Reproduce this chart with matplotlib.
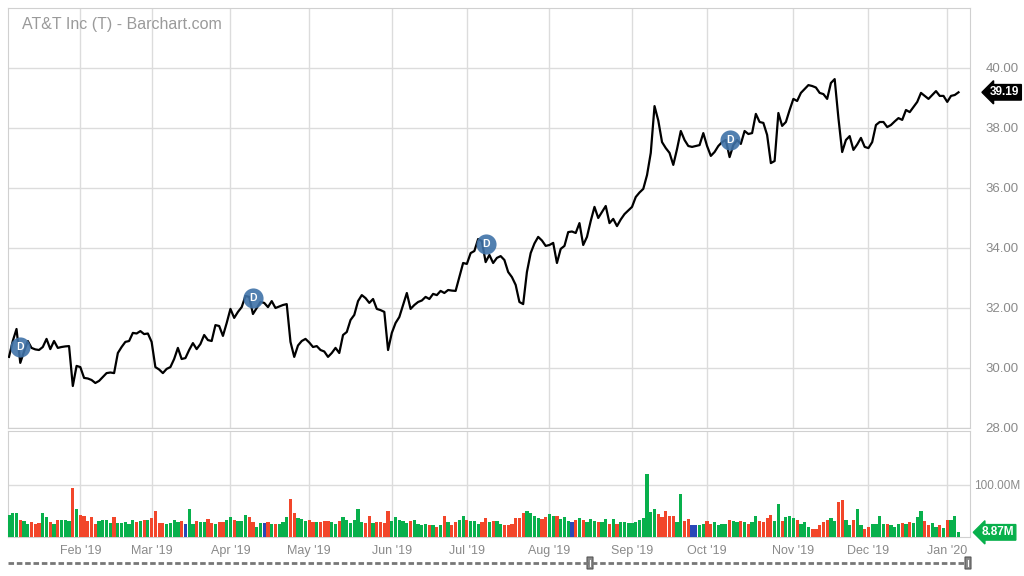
import numpy as np
import pandas as pd
import matplotlib
matplotlib.use("Agg")
import matplotlib.pyplot as plt
from matplotlib.lines import Line2D
from matplotlib.patches import FancyBboxPatch

plt.rcParams['font.family'] = ['Liberation Sans', 'DejaVu Sans']

# trading days, Jan 4 2019 .. Jan 7 2020
holidays = ["2019-01-21", "2019-02-18", "2019-04-19", "2019-05-27", "2019-07-04",
            "2019-09-02", "2019-11-28", "2019-12-25", "2020-01-01"]
dates = pd.bdate_range("2019-01-04", "2020-01-07")
dates = dates[~dates.isin(pd.to_datetime(holidays))]

close = [
    # Jan
    30.37, 30.90, 31.30, 30.17, 30.55, 30.90, 30.67, 30.62, 30.60, 30.70,
    30.97, 30.63, 30.90, 30.67, 30.70, 30.72, 30.73, 29.40, 30.07,
    # Feb
    30.03, 29.67, 29.65, 29.60, 29.50, 29.57, 29.70, 29.83, 29.85, 29.83,
    30.50, 30.70, 30.87, 30.90, 31.17, 31.15, 31.23, 31.13, 31.15,
    # Mar
    30.87, 30.03, 29.95, 29.83, 29.97, 30.03, 30.30, 30.67, 30.30, 30.33,
    30.60, 30.83, 30.63, 30.80, 31.10, 30.93, 30.90, 31.43, 31.40, 31.07, 31.50,
    # Apr
    31.97, 31.67, 31.87, 32.03, 32.40, 32.37, 31.80, 32.00, 32.20, 32.17,
    32.03, 32.23, 32.00, 32.05, 32.10, 32.13, 30.87, 30.37, 30.75, 30.90, 30.97,
    # May
    30.85, 30.70, 30.73, 30.60, 30.55, 30.37, 30.50, 30.67, 30.50, 31.10,
    31.20, 31.60, 31.77, 32.23, 32.43, 32.33, 32.17, 32.30, 31.97, 31.93,
    31.87, 30.60,
    # Jun
    31.17, 31.50, 31.70, 32.10, 32.50, 31.97, 32.10, 32.20, 32.25, 32.37,
    32.30, 32.47, 32.43, 32.57, 32.50, 32.60, 32.58, 32.57, 33.03, 33.50,
    # Jul
    33.47, 33.83, 33.90, 34.30, 34.23, 33.53, 33.77, 33.50, 33.67, 33.73,
    33.60, 33.20, 33.03, 32.77, 32.20, 32.13, 33.20, 33.83, 34.15, 34.37,
    34.25, 34.07,
    # Aug
    34.10, 34.17, 33.50, 33.97, 34.07, 34.53, 34.55, 34.50, 34.83, 34.10,
    34.37, 34.90, 35.37, 35.00, 35.20, 35.40, 34.83, 34.97, 34.73, 34.95,
    35.13, 35.25,
    # Sep
    35.37, 35.70, 35.85, 35.97, 36.43, 37.17, 38.73, 38.25, 37.53, 37.33,
    37.17, 36.77, 37.30, 37.90, 37.60, 37.40, 37.37, 37.40, 37.43, 37.83,
    # Oct
    37.40, 37.07, 37.20, 37.40, 37.53, 37.60, 37.03, 37.43, 37.60, 37.47,
    37.90, 37.80, 37.83, 38.47, 38.20, 38.17, 37.77, 36.83, 36.90, 38.50,
    38.07, 38.20, 38.60,
    # Nov
    38.97, 38.90, 39.17, 39.30, 39.43, 39.40, 39.35, 39.17, 39.13, 38.97,
    39.50, 39.63, 38.33, 37.20, 37.60, 37.73, 37.27, 37.45, 37.67, 37.37,
    # Dec
    37.33, 37.53, 38.10, 38.20, 38.20, 38.03, 38.10, 38.22, 38.33, 38.27,
    38.60, 38.53, 38.70, 38.87, 39.17, 39.07, 38.97, 39.10, 39.23, 39.07, 39.07,
    # Jan 2020
    38.87, 39.07, 39.10, 39.19,
]

# volume, millions
volume = [
    41, 45, 45, 33, 30, 25, 28, 25, 26, 45, 38, 28, 25, 32, 32, 32, 30, 94, 54,
    41, 40, 30, 38, 25, 30, 32, 32, 26, 38, 26, 26, 28, 25, 32, 28, 30, 32, 33,
    36, 50, 26, 26, 24, 27, 33, 28, 30, 25, 54, 25, 30, 28, 28, 35, 26, 25, 28, 28, 32,
    38, 33, 30, 30, 41, 38, 28, 20, 26, 26, 28, 24, 25, 25, 28, 38, 73, 45, 36, 35, 30,
    32, 28, 28, 28, 30, 30, 28, 25, 30, 38, 32, 26, 33, 54, 28, 26, 40, 26, 28, 28, 26, 50,
    30, 38, 32, 30, 26, 30, 33, 24, 22, 24, 22, 22, 20, 22, 40, 28, 22, 28, 32, 40,
    33, 30, 30, 25, 28, 36, 28, 30, 30, 24, 22, 22, 24, 36, 36, 45, 49, 46, 40, 36, 34, 38,
    43, 40, 40, 34, 38, 30, 28, 32, 36, 33, 28, 35, 30, 28, 28, 34, 25, 34, 25, 28, 28, 26,
    26, 28, 33, 36, 120, 48, 54, 43, 38, 50, 40, 40, 28, 81, 30, 34, 22, 22, 22, 25,
    30, 25, 28, 22, 25, 25, 33, 30, 28, 30, 28, 24, 28, 40, 30, 28, 36, 41, 30, 63, 30, 38, 40,
    36, 33, 25, 28, 20, 16, 16, 22, 28, 33, 36, 30, 66, 70, 33, 22, 33, 54, 22, 16,
    20, 25, 25, 40, 25, 25, 22, 20, 25, 26, 25, 28, 26, 38, 50, 30, 22, 26, 20, 22, 18,
    32, 33, 40, 8.87,
]

unchanged_days = [47, 68, 150, 182, 183]
dividend_days = ["2019-01-09", "2019-04-09", "2019-07-09", "2019-10-09"]
dividend_level = [30.70, 32.33, 34.13, 37.60]

price_ticks = [28, 30, 32, 34, 36, 38, 40]

W, H = 1024, 576
fig = plt.figure(figsize=(W / 100, H / 100), dpi=100)

x = np.arange(len(close))
left = 8 / W
width = 962 / W
xlim = (-0.27, 256.06)

grid_c = '#dcdcdc'
text_c = '#8a8a8a'

# price panel
ax = fig.add_axes([left, 1 - 428 / H, width, 420 / H])
ax.plot(x, close, color='black', lw=1.6, zorder=3)
ax.set_xlim(*xlim)
ax.set_ylim(28, 42)
ax.yaxis.tick_right()
ax.set_yticks(price_ticks)
ax.set_yticklabels([f"{p:.2f}" for p in price_ticks])
ax.tick_params(axis='y', length=0, pad=11, labelsize=9.5, labelcolor=text_c)
ax.tick_params(axis='x', length=0, labelbottom=False)
month_pos = [i for i in range(1, len(dates)) if dates[i].month != dates[i - 1].month]
ax.set_xticks(month_pos)
ax.grid(True, color=grid_c, lw=1)
for s in ax.spines.values():
    s.set_color('#d0d0d0')

# dividend markers
for d, lvl in zip(dividend_days, dividend_level):
    i = int(np.searchsorted(dates, pd.Timestamp(d)))
    ax.plot(i, lvl, 'o', ms=14.5, color='#3f72a8', alpha=0.9, zorder=4, mec='none')
    ax.text(i, lvl, 'D', color='white', fontsize=7.5, fontweight='bold',
            ha='center', va='center', zorder=5)

ax.text(1.021, (close[-1] - 28) / 14, f"{close[-1]:.2f}", transform=ax.transAxes,
        color='white', fontsize=8.5, fontweight='bold', ha='left', va='center',
        bbox=dict(boxstyle='larrow,pad=0.15', fc='black', ec='black'))

fig.text(22 / W, 1 - 25 / H, "AT&T Inc (T) - Barchart.com", color='#9a9a9a',
         fontsize=11.5, va='center')

# volume panel
vx = fig.add_axes([left, 1 - 537 / H, width, 106 / H])
colors = []
for i in range(len(volume)):
    if i in unchanged_days:
        colors.append('#2a48b8')
    elif i == 0 or close[i] >= close[i - 1]:
        colors.append('#08b04c')
    else:
        colors.append('#f2462a')
vx.bar(x, volume, width=0.86, color=colors, zorder=3)
vx.set_xlim(*xlim)
vx.set_ylim(0, 202)
vx.yaxis.tick_right()
vx.set_yticks([100])
vx.set_yticklabels(["100.00M"])
vx.tick_params(axis='y', length=0, pad=3, labelsize=8.5, labelcolor=text_c)
vx.set_xticks(month_pos)
vx.set_xticklabels([d.strftime("%b '%y") for d in dates[month_pos]])
vx.tick_params(axis='x', length=0, pad=6, labelsize=9, labelcolor=text_c)
vx.grid(True, color=grid_c, lw=1)
for s in vx.spines.values():
    s.set_color('#d0d0d0')

vx.text(1.012, volume[-1] / 202, f"{volume[-1]:.2f}M", transform=vx.transAxes,
        color='white', fontsize=8.5, fontweight='bold', ha='left', va='center',
        bbox=dict(boxstyle='larrow,pad=0.15', fc='#08b04c', ec='#08b04c'))

# scrollbar
sy = 1 - 563 / H
fig.add_artist(Line2D([8 / W, 966 / W], [sy, sy], color='#777777', lw=2,
                      linestyle=(0, (2, 1))))
for hx in (590, 968):
    fig.add_artist(FancyBboxPatch(((hx - 3) / W, sy - 6 / H), 6 / W, 12 / H,
                                  boxstyle='round,pad=0', fc='#888888', ec='#555555', lw=0.8))
    fig.add_artist(Line2D([hx / W, hx / W], [sy - 3 / H, sy + 3 / H], color='white', lw=0.8))

fig.savefig("out.png", dpi=100)
